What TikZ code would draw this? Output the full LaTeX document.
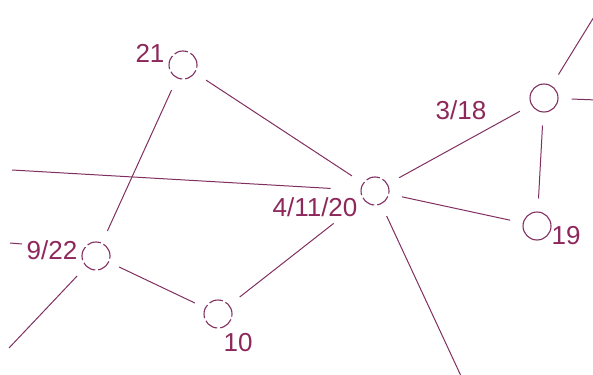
\documentclass[tikz,border=0pt]{standalone}
\usepackage{fontspec}
\setmainfont{Liberation Sans}
\definecolor{ink}{RGB}{128,48,96}
\definecolor{txt}{RGB}{140,40,90}
\begin{document}
\begin{tikzpicture}[x=1pt,y=-1pt,
  vtx/.style={circle,draw=ink,line width=1.1pt,minimum size=28pt,inner sep=0pt},
  brk/.style={dash pattern=on 14pt off 3pt},
  lnk/.style={draw=ink,line width=1pt,shorten <=13pt,shorten >=13pt},
  lbl/.style={text=txt,inner sep=0pt,font=\fontsize{26}{28}\selectfont}]
\useasboundingbox (0,0) rectangle (593,374);
\begin{scope}
\clip (0,0) rectangle (593,374);
% vertices
\node[vtx,brk] (n21) at (183,65) {};
\node[vtx] (n318) at (544,98) {};
\node[vtx,brk] (n41120) at (375,191) {};
\node[vtx] (n19) at (537,226) {};
\node[vtx,brk] (n922) at (96,256) {};
\node[vtx,brk] (n10) at (218,314) {};
% free ends
\coordinate (eL) at (12,170);
\coordinate (eTR) at (597,12);
\coordinate (eR) at (597,100);
\coordinate (eB) at (461,376);
\coordinate (eBL) at (9,348);
\coordinate (s1) at (10,243);
\coordinate (s2) at (22,244);
% edges
\draw[lnk] (n21) -- (n41120);
\draw[lnk] (n21) -- (n922);
\draw[lnk,shorten <=0pt,shorten >=30pt] (eL) -- (n41120);
\draw[lnk] (n41120) -- (n318);
\draw[lnk,shorten >=0pt] (n318) -- (eTR);
\draw[lnk,shorten >=0pt] (n318) -- (eR);
\draw[lnk] (n318) -- (n19);
\draw[lnk] (n41120) -- (n19);
\draw[lnk,shorten >=0pt] (n41120) -- (eB);
\draw[lnk,shorten <=38pt] (n41120) -- (n10);
\draw[lnk,shorten <=11pt,shorten >=11pt] (n922) -- (n10);
\draw[lnk,shorten >=0pt] (n922) -- (eBL);
\draw[draw=ink,line width=1pt] (s1) -- (s2);
\end{scope}
% labels
\node[lbl] (t21) at (150,53) {21};
\node[lbl] (t318) at (461,110) {3/18};
\node[lbl] (t41120) at (315,207) {4/11/20};
\node[lbl] (t922) at (52,250) {9/22};
\node[lbl] (t19) at (566,236) {19};
\node[lbl] (t10) at (238,343) {10};
\end{tikzpicture}
\end{document}
